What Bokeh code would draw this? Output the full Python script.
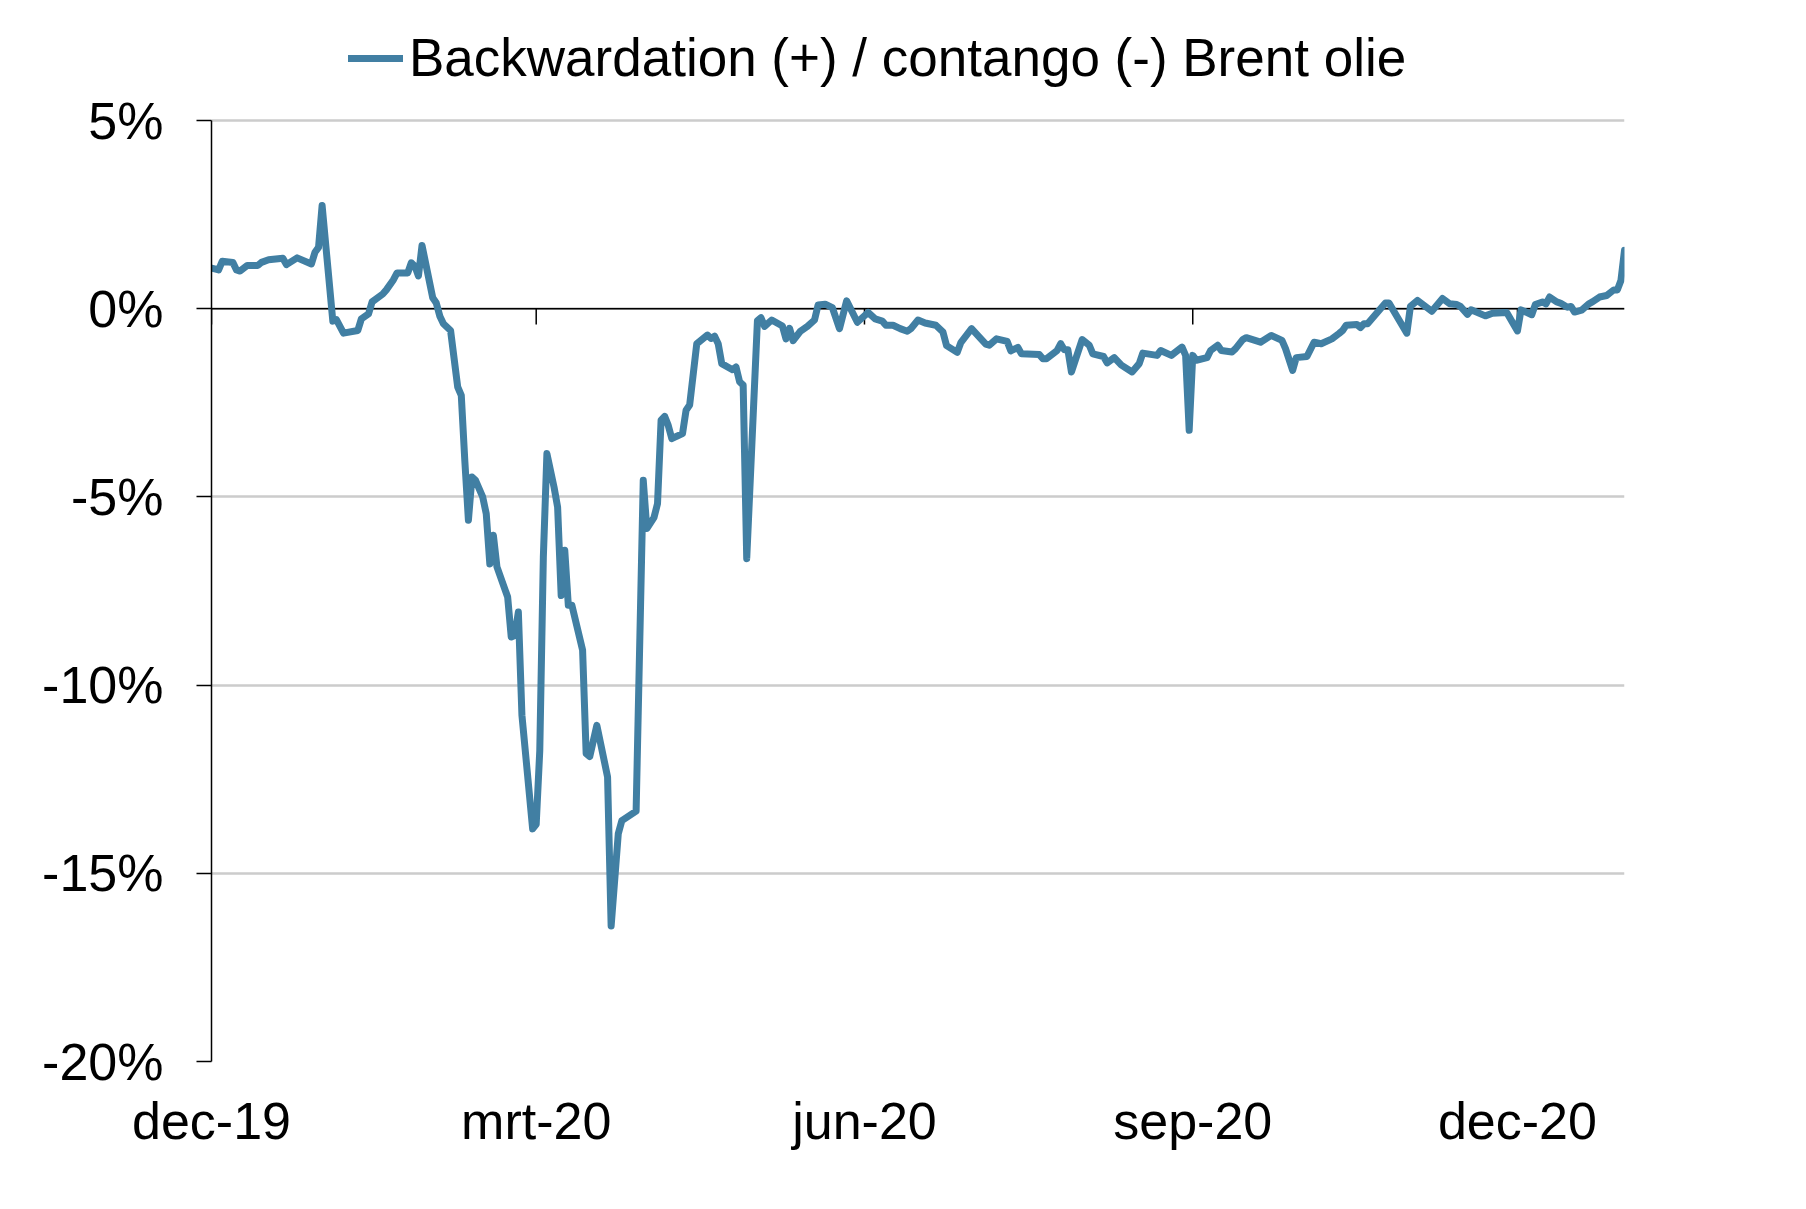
import pandas as pd
from bokeh.plotting import figure
from bokeh.models import Range1d, FixedTicker, Span, Legend, LegendItem, ColumnDataSource
from bokeh.embed import file_html
from bokeh.resources import INLINE

# ---------------- data ----------------
dates = [
    "2019-12-01", "2019-12-03", "2019-12-04", "2019-12-07", "2019-12-08", "2019-12-09", "2019-12-11", "2019-12-14",
    "2019-12-15", "2019-12-17", "2019-12-21", "2019-12-22", "2019-12-25", "2019-12-29", "2019-12-30", "2019-12-31",
    "2020-01-01", "2020-01-04", "2020-01-05", "2020-01-07", "2020-01-11", "2020-01-12", "2020-01-14", "2020-01-15",
    "2020-01-18", "2020-01-19", "2020-01-21", "2020-01-22", "2020-01-25", "2020-01-26", "2020-01-27", "2020-01-28",
    "2020-01-29",
    "2020-02-01", "2020-02-02", "2020-02-03", "2020-02-04", "2020-02-06", "2020-02-08", "2020-02-09", "2020-02-10",
    "2020-02-11", "2020-02-12", "2020-02-13", "2020-02-15", "2020-02-16", "2020-02-17", "2020-02-18", "2020-02-19",
    "2020-02-22", "2020-02-23", "2020-02-24", "2020-02-25", "2020-02-26", "2020-02-29",
    "2020-03-01", "2020-03-02", "2020-03-03", "2020-03-04", "2020-03-06", "2020-03-07", "2020-03-08", "2020-03-09",
    "2020-03-10", "2020-03-11", "2020-03-14", "2020-03-15", "2020-03-16", "2020-03-18", "2020-03-21", "2020-03-22",
    "2020-03-24", "2020-03-25", "2020-03-29", "2020-03-31",
    "2020-04-01", "2020-04-03", "2020-04-04", "2020-04-05", "2020-04-06", "2020-04-07", "2020-04-08", "2020-04-11",
    "2020-04-12", "2020-04-13", "2020-04-15", "2020-04-18", "2020-04-19", "2020-04-20", "2020-04-21", "2020-04-22",
    "2020-04-25", "2020-04-26", "2020-04-27", "2020-04-28", "2020-04-29",
    "2020-05-02", "2020-05-03", "2020-05-04", "2020-05-06", "2020-05-09", "2020-05-10", "2020-05-11", "2020-05-12",
    "2020-05-14", "2020-05-16", "2020-05-18", "2020-05-19", "2020-05-21", "2020-05-23", "2020-05-25", "2020-05-27",
    "2020-05-30",
    "2020-06-02", "2020-06-04", "2020-06-06", "2020-06-07", "2020-06-09", "2020-06-11", "2020-06-13", "2020-06-14",
    "2020-06-16", "2020-06-18", "2020-06-21", "2020-06-23", "2020-06-24", "2020-06-27", "2020-06-28",
    "2020-07-01", "2020-07-05", "2020-07-06", "2020-07-08", "2020-07-11", "2020-07-12", "2020-07-14", "2020-07-15",
    "2020-07-20", "2020-07-21", "2020-07-22", "2020-07-25", "2020-07-26", "2020-07-27", "2020-07-28", "2020-07-29",
    "2020-08-01", "2020-08-03", "2020-08-04", "2020-08-07", "2020-08-08", "2020-08-10", "2020-08-12", "2020-08-15",
    "2020-08-17", "2020-08-18", "2020-08-22", "2020-08-23", "2020-08-26", "2020-08-29", "2020-08-30", "2020-08-31",
    "2020-09-01", "2020-09-02", "2020-09-05", "2020-09-06", "2020-09-08", "2020-09-09", "2020-09-12", "2020-09-13",
    "2020-09-15", "2020-09-16", "2020-09-20", "2020-09-23", "2020-09-26", "2020-09-27", "2020-09-29", "2020-09-30",
    "2020-10-03", "2020-10-05", "2020-10-07", "2020-10-10", "2020-10-12", "2020-10-13", "2020-10-14", "2020-10-17",
    "2020-10-18", "2020-10-19", "2020-10-20", "2020-10-25", "2020-10-26", "2020-10-31",
    "2020-11-01", "2020-11-03", "2020-11-07", "2020-11-10", "2020-11-12", "2020-11-14", "2020-11-15", "2020-11-17",
    "2020-11-18", "2020-11-22", "2020-11-24", "2020-11-28",
    "2020-12-01", "2020-12-02", "2020-12-05", "2020-12-06", "2020-12-08", "2020-12-09", "2020-12-10", "2020-12-12",
    "2020-12-13", "2020-12-15", "2020-12-16", "2020-12-17", "2020-12-19", "2020-12-21", "2020-12-22", "2020-12-24",
    "2020-12-26", "2020-12-28", "2020-12-29", "2020-12-30", "2020-12-31",
]

backwardation = [
    1.08, 1.03, 1.26, 1.23, 1.03, 1.00, 1.15, 1.15, 1.23, 1.30, 1.34, 1.17, 1.35, 1.19, 1.50, 1.63,
    2.74, -0.33, -0.29, -0.65, -0.58, -0.27, -0.14, 0.18, 0.39, 0.50, 0.77, 0.95, 0.95, 1.22, 1.13, 0.87, 1.68,
    0.29, 0.15, -0.20, -0.40, -0.58, -2.08, -2.30, -4.05, -5.62, -4.47, -4.56, -5.00, -5.45, -6.78, -6.02, -6.86,
    -7.66, -8.72, -8.68, -8.06, -10.80, -13.82,
    -13.70, -11.74, -6.60, -3.85, -4.74, -5.27, -7.62, -6.42, -7.88, -7.88, -9.07, -11.82, -11.90, -11.07,
    -12.44, -16.40, -13.95, -13.60, -13.35, -4.56,
    -5.84, -5.55, -5.18, -2.96, -2.86, -3.10, -3.45, -3.32, -2.70, -2.56, -0.93, -0.70, -0.79, -0.73, -0.93,
    -1.46, -1.62, -1.55, -1.94, -2.03, -6.64,
    -0.32, -0.24, -0.47, -0.30, -0.46, -0.80, -0.52, -0.85, -0.60, -0.47, -0.30, 0.10, 0.12, 0.03, -0.53, 0.21,
    -0.36,
    -0.10, -0.27, -0.33, -0.44, -0.44, -0.53, -0.60, -0.53, -0.30, -0.38, -0.44, -0.62, -0.98, -1.16, -0.90,
    -0.53, -0.94, -0.97, -0.80, -0.87, -1.12, -1.03, -1.20, -1.22, -1.33, -1.33, -1.11, -0.93, -1.09, -1.09, -1.68,
    -0.82, -0.97, -1.20, -1.27, -1.44, -1.30, -1.50, -1.68, -1.46, -1.18, -1.24, -1.11, -1.24, -1.02, -1.24, -3.23,
    -1.24, -1.37, -1.30, -1.11, -0.97, -1.11, -1.15, -1.06, -0.82, -0.77, -0.89, -0.71, -0.84, -1.06, -1.64, -1.30,
    -1.27, -0.89, -0.93, -0.80, -0.66, -0.58, -0.44, -0.42, -0.50, -0.40, -0.40, 0.15, 0.15, -0.65,
    0.06, 0.22, -0.07, 0.27, 0.13, 0.11, 0.06, -0.15, -0.03, -0.19, -0.12, -0.10,
    -0.59, -0.03, -0.16, 0.11, 0.18, 0.13, 0.31, 0.18, 0.15, 0.04, 0.06, -0.09, -0.04, 0.13, 0.18, 0.31,
    0.35, 0.50, 0.50, 0.75, 1.55,
]

x_tick_dates = ["2019-12-01", "2020-03-01", "2020-06-01", "2020-09-01", "2020-12-01"]
x_tick_labels = ["dec-19", "mrt-20", "jun-20", "sep-20", "dec-20"]
y_ticks = [-20, -15, -10, -5, 0, 5]
y_tick_labels = ["-20%", "-15%", "-10%", "-5%", "0%", "5%"]
series_name = "Backwardation (+) / contango (-) Brent olie"
x_start = "2019-12-01"
x_end = "2020-12-31"

# ---------------- derived positions ----------------
t0 = pd.Timestamp(x_start)
days = [(pd.Timestamp(d) - t0).days for d in dates]
tick_days = [(pd.Timestamp(d) - t0).days for d in x_tick_dates]
end_day = (pd.Timestamp(x_end) - t0).days

FONT = "Liberation Sans"
FS = "52px"
LINE_COLOR = "#417fa3"

# layout (pixels): plot area from y=120 (5%) to y=1061 (-20%); the frame is
# extended up to the top edge so the legend can sit inside it.
W, H = 1790, 1190
ML = 211
MR = W - 1624
AX_TOP, AX_BOTTOM = 120, 1061
MB = H - AX_BOTTOM
Y_MIN, Y_MAX = y_ticks[0], y_ticks[-1]
px_per_unit = (AX_BOTTOM - AX_TOP) / (Y_MAX - Y_MIN)
y_top = Y_MAX + AX_TOP / px_per_unit

p = figure(
    width=W, height=H,
    output_backend="svg", toolbar_location=None,
    x_range=Range1d(0, end_day), y_range=Range1d(Y_MIN, y_top),
    min_border_left=ML, min_border_right=MR, min_border_top=0, min_border_bottom=MB,
)
p.outline_line_color = None
p.background_fill_color = "white"
p.border_fill_color = "white"

# x axis (labels only; axis line drawn at zero)
xa = p.xaxis[0]
xa.ticker = FixedTicker(ticks=tick_days)
xa.major_label_overrides = {d: lab for d, lab in zip(tick_days, x_tick_labels)}
xa.axis_line_color = None
xa.major_tick_line_color = None
xa.minor_tick_line_color = None
xa.major_label_standoff = 24
xa.major_label_text_font = FONT
xa.major_label_text_font_size = FS
xa.major_label_text_color = "black"

# y axis
ya = p.yaxis[0]
ya.ticker = FixedTicker(ticks=y_ticks)
ya.major_label_overrides = {t: lab for t, lab in zip(y_ticks, y_tick_labels)}
ya.bounds = (Y_MIN, Y_MAX)
ya.axis_line_color = "black"
ya.axis_line_width = 1.5
ya.major_tick_line_color = "black"
ya.major_tick_line_width = 1.5
ya.major_tick_out = 15
ya.major_tick_in = 0
ya.minor_tick_line_color = None
ya.major_label_standoff = 33
ya.major_label_text_font = FONT
ya.major_label_text_font_size = FS
ya.major_label_text_color = "black"

p.xgrid.visible = False
p.ygrid.ticker = FixedTicker(ticks=y_ticks)
p.ygrid.grid_line_color = "#cccccc"
p.ygrid.grid_line_width = 2.5

zero = Span(location=0, dimension="width", line_color="black", line_width=1.5, level="underlay")
p.add_layout(zero)

# small category tick marks hanging from the zero line
p.segment(x0=tick_days, y0=[0] * len(tick_days), x1=tick_days, y1=[-0.42] * len(tick_days),
          line_color="black", line_width=1.5)

src = ColumnDataSource(dict(day=days, val=backwardation))
r = p.line("day", "val", source=src, line_color=LINE_COLOR, line_width=7,
           line_join="round", line_cap="round")

legend = Legend(
    items=[LegendItem(label=series_name, renderers=[r])],
    location=(137, AX_BOTTOM - 88), orientation="horizontal",
    label_text_font=FONT, label_text_font_size="53px", label_text_color="black",
    glyph_width=55, glyph_height=20, label_standoff=6,
    padding=0, margin=0, border_line_color=None, background_fill_alpha=0,
)
p.add_layout(legend, "center")

open("out.html", "w").write(file_html(p, INLINE))
